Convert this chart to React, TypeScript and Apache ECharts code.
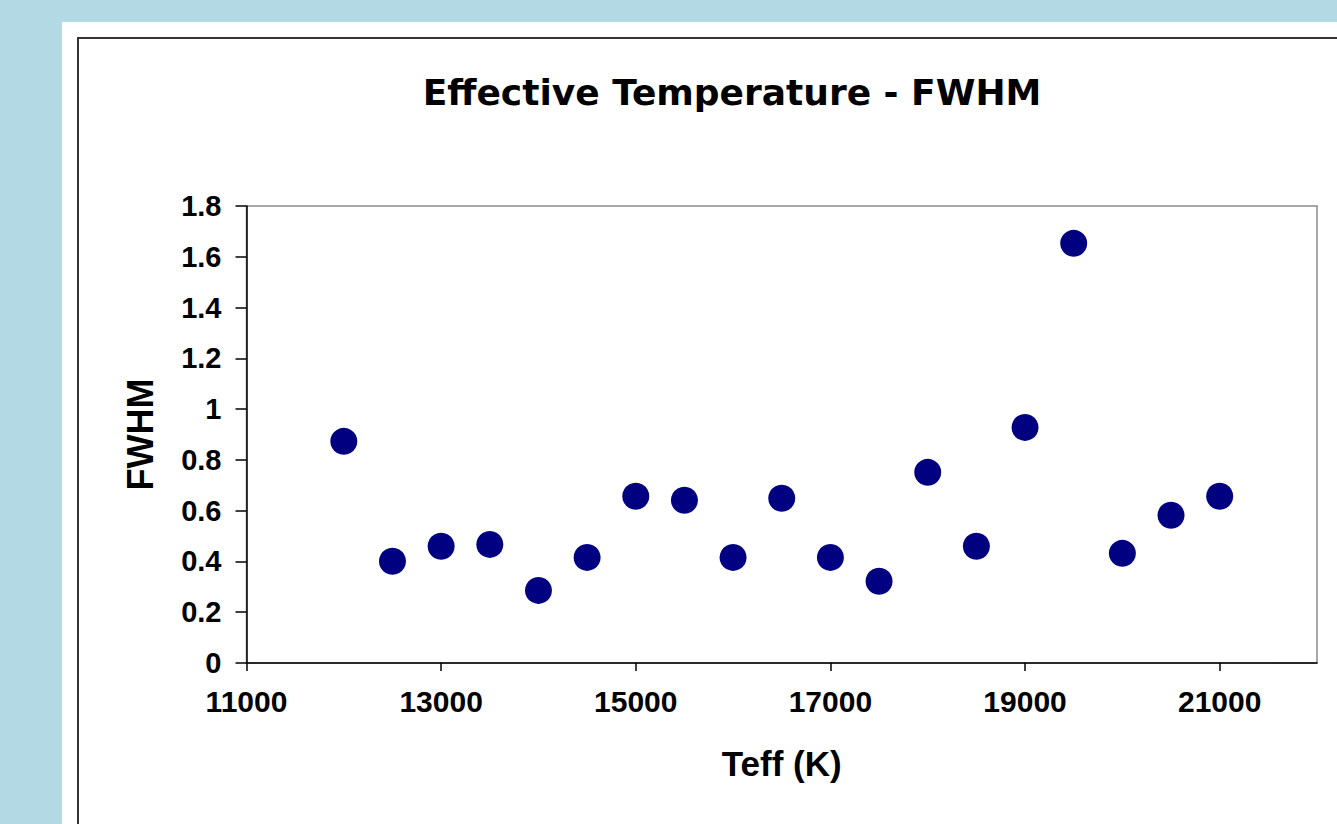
import React, { useEffect, useRef } from "react";
import * as echarts from "echarts";

const teff = [12000, 12500, 13000, 13500, 14000, 14500, 15000, 15500, 16000, 16500, 17000, 17500, 18000, 18500, 19000, 19500, 20000, 20500, 21000];
const fwhm = [0.873, 0.401, 0.46, 0.467, 0.286, 0.416, 0.657, 0.641, 0.416, 0.649, 0.416, 0.322, 0.751, 0.46, 0.928, 1.653, 0.432, 0.582, 0.657];
const xTickValues = [11000, 13000, 15000, 17000, 19000, 21000];
const titleText = "Effective Temperature - FWHM";
const xName = "Teff (K)";
const yName = "FWHM";

export default function App() {
  const ref = useRef<HTMLDivElement>(null);
  useEffect(() => {
    if (!ref.current) return;
    const chart = echarts.init(ref.current, null, { renderer: "svg" });
    const font = "'Liberation Sans', Arial, sans-serif";
    chart.setOption({
      animation: false,
      backgroundColor: "#b3dae4",
      graphic: [
        { type: "rect", shape: { x: 62, y: 22, width: 1400, height: 900 }, style: { fill: "#ffffff" }, z: -10 },
        { type: "rect", shape: { x: 78, y: 38, width: 1400, height: 900 }, style: { fill: "none", stroke: "#333333", lineWidth: 2 }, z: -9 },
      ],
      title: {
        text: titleText,
        left: 727,
        top: 69,
        textAlign: "center",
        textStyle: { fontFamily: "'DejaVu Sans', sans-serif", fontWeight: "bold", fontSize: 36, color: "#000" },
      },
      grid: { left: 246.5, top: 206, right: 20, bottom: 161, show: true, borderColor: "#8a8a8a", borderWidth: 1.5, backgroundColor: "transparent" },
      xAxis: {
        type: "value",
        min: 11000,
        max: 22000,
        interval: 1000,
        name: xName,
        nameLocation: "middle",
        nameGap: 83,
        nameTextStyle: { fontFamily: font, fontWeight: "bold", fontSize: 35, color: "#000" },
        axisLine: { show: true, onZero: false, lineStyle: { color: "#000", width: 1.5 } },
        axisTick: { show: true, length: 8, customValues: xTickValues, lineStyle: { color: "#000", width: 1.5 } },
        axisLabel: { customValues: xTickValues, formatter: (v: number) => String(v), margin: 23, fontFamily: font, fontWeight: "bold", fontSize: 30, color: "#000" },
        splitLine: { show: false },
      },
      yAxis: {
        type: "value",
        min: 0,
        max: 1.8,
        interval: 0.2,
        name: yName,
        nameLocation: "middle",
        nameGap: 88,
        nameTextStyle: { fontFamily: font, fontWeight: "bold", fontSize: 36, color: "#000" },
        axisLine: { show: true, onZero: false, lineStyle: { color: "#000", width: 1.5 } },
        axisTick: { show: true, length: 11, lineStyle: { color: "#000", width: 1.5 } },
        axisLabel: { margin: 25, fontFamily: font, fontWeight: "bold", fontSize: 29, color: "#000" },
        splitLine: { show: false },
      },
      series: [
        {
          type: "scatter",
          data: teff.map((t, i) => [t, fwhm[i]]),
          symbol: "circle",
          symbolSize: 27,
          itemStyle: { color: "#000080", opacity: 1 },
        },
      ],
    });
    return () => chart.dispose();
  }, []);
  return <div ref={ref} style={{ position: "fixed", left: 0, top: 0, width: 1337, height: 824 }} />;
}
